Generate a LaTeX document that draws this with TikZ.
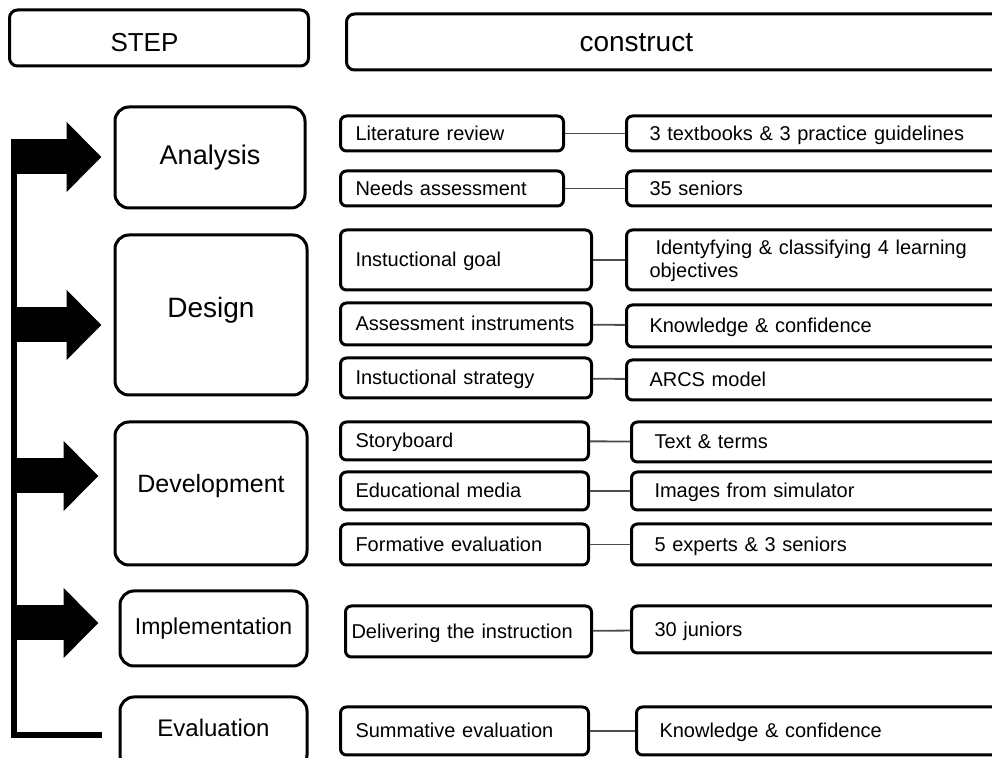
\documentclass[tikz,border=0pt]{standalone}
\usepackage{fontspec}
\setmainfont{Liberation Sans}
\usetikzlibrary{arrows.meta,positioning}
\definecolor{linkgray}{rgb}{.3,.3,.3}

\begin{document}
\begin{tikzpicture}[x=0.5pt,y=-0.5pt,% one unit is one pixel of the sketch
					every node/.style={
						draw=black,
						line width=1.5pt,
						align=left		% boxes on the right keep their text to the left
						},
					headbox/.style={rounded corners=4pt,anchor=west,minimum height=28pt},
					stepbox/.style={rounded corners=7pt,align=center},
					itembox/.style={rounded corners=3pt,anchor=west,inner xsep=7.5pt,text height=8pt,text depth=1pt,font=\fontsize{10}{11.5}\selectfont},
					valbox/.style={itembox,inner xsep=11.5pt},
					every edge/.style={draw=linkgray,line width=0.9pt},
					bigarrow/.style={line width=17.5pt,-{Triangle[length=17.5pt,width=34pt]}}
					]
\useasboundingbox (0,0) rectangle (992,758);
\clip (0,0) rectangle (992,758);

% headings
\node[headbox,inner xsep=50.5pt,text width=48.5pt,text height=14pt,text depth=0pt,font=\fontsize{13}{15}\selectfont](stephd) at (8,38){STEP};
\node[headbox,inner xsep=116.5pt,text width=94.5pt,text height=10pt,text depth=0.8pt,font=\fontsize{14}{16}\selectfont](conshd) at (345,42){construct};

% steps
\node[stepbox,minimum width=95pt,minimum height=50.5pt,font=\fontsize{13.5}{16}\selectfont](ana) at (210,157.5){Analysis};
\node[stepbox,minimum width=96pt,minimum height=80pt,text height=10pt,text depth=7.9pt,font=\fontsize{14}{16}\selectfont](des) at (211,315){Design};
\node[stepbox,minimum width=96pt,minimum height=71.5pt,text height=9.2pt,text depth=9.8pt,font=\fontsize{12.5}{15}\selectfont](dev) at (211,493.5){Development};
\node[stepbox,minimum width=93.5pt,minimum height=37.5pt,font=\fontsize{11.5}{14}\selectfont](imp) at (213.5,628.5){Implementation};
\node[stepbox,minimum width=93.5pt,minimum height=36pt,text height=9pt,text depth=5pt,font=\fontsize{12}{14}\selectfont](eva) at (213.5,733){Evaluation};

% what each step builds
\node[itembox,text width=96.5pt,minimum height=17.5pt](litrev) at (339,133.5){Literature review};
\node[itembox,text width=96.5pt,minimum height=17.5pt](needs) at (339,188.5){Needs assessment};
\node[itembox,text width=110.5pt,minimum height=30pt](igoal) at (339,260){Instuctional goal};
\node[itembox,text width=110.5pt,minimum height=21pt](ainst) at (339,324){Assessment instruments};
\node[itembox,text width=110.5pt,minimum height=20pt](istrat) at (339,378){Instuctional strategy};
\node[itembox,text width=109pt,minimum height=19pt](story) at (339,441){Storyboard};
\node[itembox,text width=109pt,minimum height=19pt](edmed) at (339,491){Educational media};
\node[itembox,text width=109pt,minimum height=20.5pt](formev) at (339,544.5){Formative evaluation};
\node[itembox,inner xsep=3pt,text width=117pt,minimum height=25.5pt](deliv) at (344,631.5){Delivering the instruction};
\node[itembox,text width=109pt,minimum height=24pt](summ) at (339,731){Summative evaluation};

% sources
\node[valbox,text width=164.5pt,minimum height=17.5pt](tb) at (625,133.5){3 textbooks \& 3 practice guidelines};
\node[valbox,text width=164.5pt,minimum height=17.5pt](sen35) at (625,188.5){35 seniors};
\node[valbox,text width=164.5pt,minimum height=30pt,text depth=13.5pt](ident) at (625,260){\hspace{3pt}Identyfying \& classifying 4 learning\\objectives};
\node[valbox,text width=164.5pt,minimum height=21pt](kc1) at (625,326){Knowledge \& confidence};
\node[valbox,text width=164.5pt,minimum height=20pt](arcs) at (625,380){ARCS model};
\node[valbox,text width=162pt,minimum height=20pt](tt) at (630,442){Text \& terms};
\node[valbox,text width=162pt,minimum height=19pt](img) at (630,491){Images from simulator};
\node[valbox,text width=162pt,minimum height=20.5pt](exp5) at (630,544.5){5 experts \& 3 seniors};
\node[valbox,text width=162pt,minimum height=23.5pt](jun30) at (630,629.5){30 juniors};
\node[valbox,text width=159.5pt,minimum height=24pt](kc2) at (635,731){Knowledge \& confidence};

\path
(litrev)edge (tb)
(needs)edge (sen35)
(igoal)edge (ident)
(ainst)edge (kc1)
(istrat)edge (arcs)
(story)edge (tt)
(edmed)edge (img)
(formev)edge (exp5)
(deliv)edge (jun30)
(summ)edge (kc2)
;

% spine with the big arrows
\coordinate (spinetop) at (14,139);
\coordinate (spinebot) at (14,735);
\coordinate (a1) at (14,157);
\coordinate (a2) at (14,325);
\coordinate (a3) at (14,476);
\coordinate (a4) at (14,623);
\draw[line width=3pt,shorten >=8.5pt] (spinetop) -- (spinebot) -- (spinebot -| eva.west);
\draw[bigarrow,shorten >=6pt] (a1) -- (a1 -| ana.west);
\draw[bigarrow,shorten >=6pt] (a2) -- (a2 -| des.west);
\draw[bigarrow,shorten >=7.5pt] (a3) -- (a3 -| dev.west);
\draw[bigarrow,shorten >=10pt] (a4) -- (a4 -| imp.west);
\end{tikzpicture}
\end{document}
